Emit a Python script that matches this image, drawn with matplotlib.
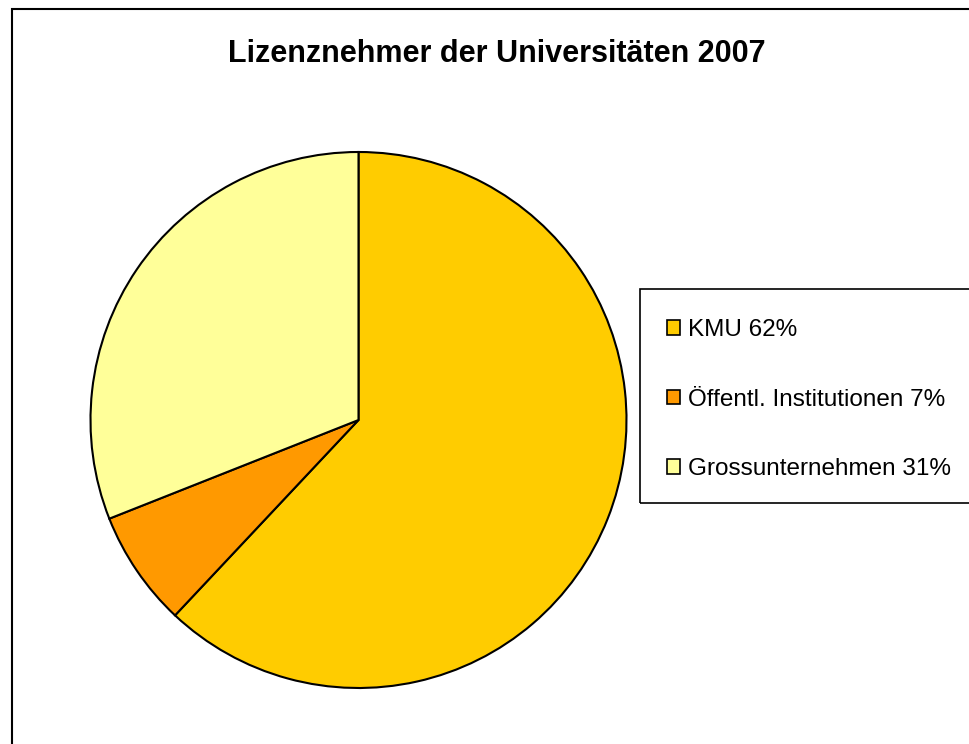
import matplotlib
matplotlib.use("Agg")
import matplotlib.pyplot as plt
from matplotlib.patches import Rectangle

plt.rcParams['font.family'] = ['Liberation Sans', 'DejaVu Sans']

title = "Lizenznehmer der Universitäten 2007"
categories = ["KMU 62%", "Öffentl. Institutionen 7%", "Grossunternehmen 31%"]
values = [62, 7, 31]
colors = ["#FFCC00", "#FF9900", "#FFFF99"]

W, H = 969, 744
fig = plt.figure(figsize=(W / 100, H / 100), dpi=100)

# outer chart frame (extends beyond right/bottom edge)
fig.patches.append(Rectangle((12 / W, -0.1), 1.2, (H - 9) / H + 0.1,
                             transform=fig.transFigure, fill=False,
                             edgecolor="black", linewidth=1.5))

fig.text(497 / W, 1 - 54 / H, title, ha="center", va="center",
         fontsize=22, fontweight="bold")

cx, cy, r = 358.5, 420, 268
ax = fig.add_axes([(cx - r) / W, 1 - (cy + r) / H, 2 * r / W, 2 * r / H])
wedges, _ = ax.pie(values, colors=colors, startangle=90, counterclock=False,
                   radius=1.0,
                   wedgeprops=dict(edgecolor="black", linewidth=1.5))
ax.set_xlim(-1, 1)
ax.set_ylim(-1, 1)
ax.set_aspect("equal")
ax.axis("off")

# legend frame
fig.patches.append(Rectangle((640 / W, 1 - 503 / H), 0.5, (503 - 289) / H,
                             transform=fig.transFigure, fill=False,
                             edgecolor="black", linewidth=1.2))

leg = fig.legend(wedges, categories, loc="upper left",
                 bbox_to_anchor=(667 / W, 1 - 319 / H),
                 frameon=False, fontsize=17.5, labelspacing=1.96,
                 handlelength=0.535, handleheight=0.535, handletextpad=0.33,
                 borderpad=0, borderaxespad=0)
for h in leg.legend_handles:
    h.set_linewidth(1.2)

fig.savefig("out.png", dpi=100)
